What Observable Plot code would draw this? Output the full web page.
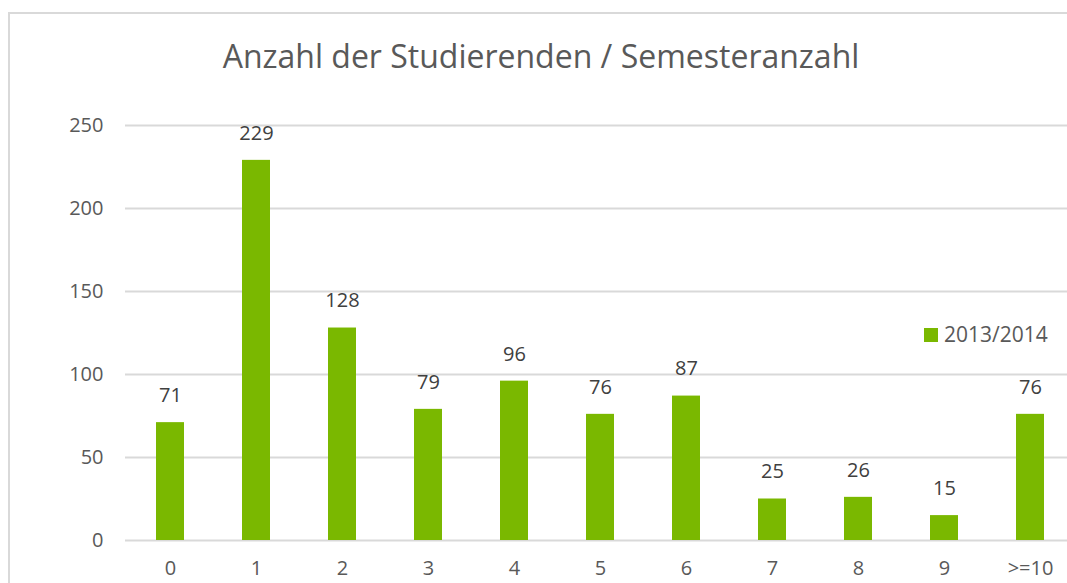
<!DOCTYPE html>
<html>
<head>
<meta charset="utf-8">
<script src="https://cdn.jsdelivr.net/npm/d3@7"></script>
<script src="https://cdn.jsdelivr.net/npm/@observablehq/plot@0.6"></script>
<style>
  html, body { margin: 0; padding: 0; background: #fff; overflow: hidden; }
  #wrap { position: relative; width: 1067px; height: 583px; overflow: hidden; font-family: "Open Sans", sans-serif; }
  #border { position: absolute; left: 8px; top: 12px; width: 1100px; height: 700px; border: 2px solid #d9d9d9; box-sizing: border-box; }
  #title { position: absolute; left: 0; width: 1082px; top: 40px; text-align: center; font-size: 32px; line-height: 1; color: #595959; white-space: nowrap; }
  #legend { position: absolute; left: 924px; top: 324px; display: flex; align-items: center; font-size: 21px; line-height: 1; color: #595959; }
  #legend .sw { width: 14px; height: 14px; margin-right: 6px; }
  #chart { position: absolute; left: 0; top: 0; width: 1075px; }
  #chart svg { max-width: none !important; }
</style>
</head>
<body>
<div id="wrap">
  <div id="border"></div>
  <div id="chart"></div>
  <div id="title"></div>
  <div id="legend"></div>
</div>
<script>
const titleText = "Anzahl der Studierenden / Semesteranzahl";
const seriesName = "2013/2014";
const categories = ["0", "1", "2", "3", "4", "5", "6", "7", "8", "9", ">=10"];
const values = [71, 229, 128, 79, 96, 76, 87, 25, 26, 15, 76];
const yTicks = [0, 50, 100, 150, 200, 250];
const barColor = "#7ab800";

const data = categories.map((c, i) => ({cat: c, value: values[i]}));

document.getElementById("title").textContent = titleText;
const legend = document.getElementById("legend");
legend.innerHTML = `<div class="sw" style="background:${barColor}"></div><span></span>`;
legend.querySelector("span").textContent = seriesName;

const chart = Plot.plot({
  width: 1075,
  height: 583,
  marginLeft: 125,
  marginRight: 1,
  marginTop: 125,
  marginBottom: 43,
  style: {fontFamily: "Open Sans, sans-serif", fontSize: "20px", color: "#595959", background: "transparent", overflow: "visible", maxWidth: "none"},
  x: {domain: categories, paddingInner: 0.675, paddingOuter: 0.3375, label: null},
  y: {domain: [0, 250], label: null},
  marks: [
    Plot.ruleY(yTicks, {stroke: "#d9d9d9", strokeWidth: 2, strokeOpacity: 1}),
    Plot.barY(data, {x: "cat", y: "value", fill: barColor}),
    Plot.text(data, {x: "cat", y: "value", text: d => String(d.value), dy: -27, fill: "#404040", fontSize: 20}),
    Plot.axisX({tickSize: 0, tickPadding: 20, fontSize: 20, fill: "#595959", label: null}),
    Plot.axisY({ticks: yTicks, tickSize: 0, tickPadding: 22, fontSize: 20, fill: "#595959", label: null})
  ]
});
document.getElementById("chart").appendChild(chart);
</script>
</body>
</html>
